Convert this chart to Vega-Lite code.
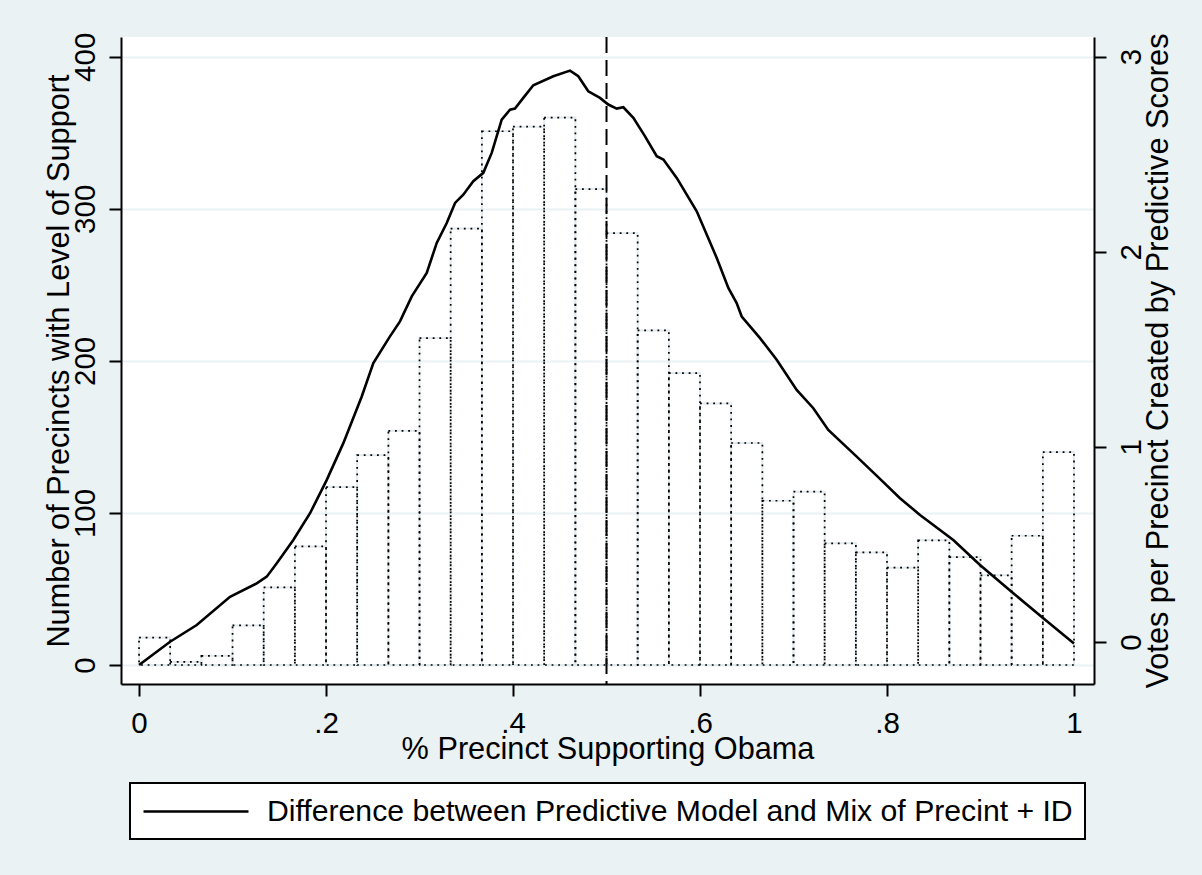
{
  "$schema": "https://vega.github.io/schema/vega-lite/v6.json",
  "width": 973,
  "height": 647,
  "autosize": {"type": "none"},
  "padding": {"left": 121, "top": 37, "right": 108, "bottom": 191},
  "background": "#eaf2f3",
  "config": {
    "view": {"fill": "white", "stroke": null},
    "font": "Liberation Sans",
    "axis": {
      "domainColor": "black", "domainWidth": 2, "tickColor": "black", "tickWidth": 2, "tickSize": 12,
      "labelFontSize": 29.5, "labelColor": "black", "labelFont": "Liberation Sans", "labelFlush": false, "labelOverlap": false,
      "titleFontSize": 30.7, "titleColor": "black", "titleFont": "Liberation Sans", "titleFontWeight": "normal",
      "gridColor": "#eaf2f3", "gridWidth": 2
    },
    "legend": {"strokeWidth": 2}
  },
  "datasets": {
    "bins": [
      {"b": 0.0, "e": 0.0333, "n": 18}, {"b": 0.0333, "e": 0.0667, "n": 2}, {"b": 0.0667, "e": 0.1, "n": 6},
      {"b": 0.1, "e": 0.1333, "n": 26}, {"b": 0.1333, "e": 0.1667, "n": 51}, {"b": 0.1667, "e": 0.2, "n": 78},
      {"b": 0.2, "e": 0.2333, "n": 117}, {"b": 0.2333, "e": 0.2667, "n": 138}, {"b": 0.2667, "e": 0.3, "n": 154},
      {"b": 0.3, "e": 0.3333, "n": 215}, {"b": 0.3333, "e": 0.3667, "n": 287}, {"b": 0.3667, "e": 0.4, "n": 351},
      {"b": 0.4, "e": 0.4333, "n": 354}, {"b": 0.4333, "e": 0.4667, "n": 360}, {"b": 0.4667, "e": 0.5, "n": 313},
      {"b": 0.5, "e": 0.5333, "n": 284}, {"b": 0.5333, "e": 0.5667, "n": 220}, {"b": 0.5667, "e": 0.6, "n": 192},
      {"b": 0.6, "e": 0.6333, "n": 172}, {"b": 0.6333, "e": 0.6667, "n": 146}, {"b": 0.6667, "e": 0.7, "n": 108},
      {"b": 0.7, "e": 0.7333, "n": 114}, {"b": 0.7333, "e": 0.7667, "n": 80}, {"b": 0.7667, "e": 0.8, "n": 74},
      {"b": 0.8, "e": 0.8333, "n": 64}, {"b": 0.8333, "e": 0.8667, "n": 82}, {"b": 0.8667, "e": 0.9, "n": 71},
      {"b": 0.9, "e": 0.9333, "n": 59}, {"b": 0.9333, "e": 0.9667, "n": 85}, {"b": 0.9667, "e": 1.0, "n": 140}
    ],
    "curve": [
      {"x": 0.0, "v": -0.118}, {"x": 0.0332, "v": 0.0015}, {"x": 0.0617, "v": 0.087}, {"x": 0.0973, "v": 0.232},
      {"x": 0.1259, "v": 0.301}, {"x": 0.1366, "v": 0.335}, {"x": 0.1473, "v": 0.404}, {"x": 0.165, "v": 0.523},
      {"x": 0.1829, "v": 0.66}, {"x": 0.2008, "v": 0.831}, {"x": 0.2185, "v": 1.019}, {"x": 0.2382, "v": 1.258},
      {"x": 0.2506, "v": 1.429}, {"x": 0.2684, "v": 1.566}, {"x": 0.2791, "v": 1.643}, {"x": 0.2917, "v": 1.771},
      {"x": 0.3077, "v": 1.891}, {"x": 0.3184, "v": 2.045}, {"x": 0.3291, "v": 2.147}, {"x": 0.338, "v": 2.25},
      {"x": 0.3468, "v": 2.292}, {"x": 0.3575, "v": 2.361}, {"x": 0.3682, "v": 2.404}, {"x": 0.3772, "v": 2.506},
      {"x": 0.3879, "v": 2.677}, {"x": 0.3968, "v": 2.728}, {"x": 0.4021, "v": 2.733}, {"x": 0.411, "v": 2.788},
      {"x": 0.4217, "v": 2.853}, {"x": 0.4431, "v": 2.899}, {"x": 0.461, "v": 2.928}, {"x": 0.4698, "v": 2.899},
      {"x": 0.4805, "v": 2.822}, {"x": 0.493, "v": 2.788}, {"x": 0.5019, "v": 2.754}, {"x": 0.5109, "v": 2.733},
      {"x": 0.518, "v": 2.74}, {"x": 0.5287, "v": 2.686}, {"x": 0.5412, "v": 2.591}, {"x": 0.5537, "v": 2.489},
      {"x": 0.5608, "v": 2.472}, {"x": 0.5751, "v": 2.378}, {"x": 0.5965, "v": 2.207}, {"x": 0.6179, "v": 1.968},
      {"x": 0.6303, "v": 1.814}, {"x": 0.6392, "v": 1.737}, {"x": 0.6446, "v": 1.668}, {"x": 0.6642, "v": 1.557},
      {"x": 0.682, "v": 1.446}, {"x": 0.7034, "v": 1.292}, {"x": 0.7212, "v": 1.198}, {"x": 0.7372, "v": 1.087},
      {"x": 0.7676, "v": 0.95}, {"x": 0.7925, "v": 0.836}, {"x": 0.8139, "v": 0.737}, {"x": 0.8353, "v": 0.651},
      {"x": 0.8709, "v": 0.523}, {"x": 0.8995, "v": 0.395}, {"x": 0.9351, "v": 0.25}, {"x": 0.9672, "v": 0.122},
      {"x": 1.0, "v": -0.007}
    ]
  },
  "layer": [
    {
      "data": {"name": "bins"},
      "encoding": {
        "x": {"field": "b", "type": "quantitative",
          "scale": {"domain": [-0.0193, 1.0214], "nice": false, "zero": false},
          "axis": {"orient": "bottom", "values": [0, 0.2, 0.4, 0.6, 0.8, 1], "grid": false,
            "labelExpr": "datum.value == 0 ? '0' : datum.value == 1 ? '1' : '.' + round(datum.value * 10)",
            "labelPadding": 13, "title": "% Precinct Supporting Obama", "titlePadding": -3}},
        "x2": {"field": "e"},
        "y": {"field": "n", "type": "quantitative",
          "scale": {"domain": [-12.5, 413], "nice": false, "zero": false},
          "axis": {"orient": "left", "values": [0, 100, 200, 300, 400], "grid": true,
            "labelAngle": -90, "labelAlign": "center", "labelBaseline": "alphabetic", "labelPadding": 15,
            "title": "Number of Precincts with Level of Support", "titlePadding": -4}},
        "y2": {"datum": 0}
      },
      "layer": [
        {"mark": {"type": "bar", "fill": null, "fillOpacity": 0, "stroke": "#e2eaed", "strokeWidth": 2}},
        {"mark": {"type": "bar", "fill": null, "fillOpacity": 0, "stroke": "black", "strokeWidth": 1.7, "strokeDash": [1.8, 4.8]}}
      ]
    },
    {
      "data": {"values": [{"cut": 0.5}]},
      "mark": {"type": "rule", "color": "black", "strokeWidth": 2, "strokeDash": [16, 7]},
      "encoding": {"x": {"field": "cut", "type": "quantitative"}}
    },
    {
      "data": {"name": "curve"},
      "mark": {"type": "line", "strokeWidth": 2.6, "interpolate": "linear"},
      "encoding": {
        "x": {"field": "x", "type": "quantitative"},
        "y": {"field": "v", "type": "quantitative",
          "scale": {"domain": [-0.215, 3.10], "nice": false, "zero": false},
          "axis": {"orient": "right", "values": [0, 1, 2, 3], "grid": false,
            "labelAngle": -90, "labelAlign": "center", "labelBaseline": "top", "labelPadding": 11,
            "title": "Votes per Precinct Created by Predictive Scores", "titleAngle": -90, "titleBaseline": "top", "titlePadding": -2}},
        "stroke": {"datum": "Difference between Predictive Model and Mix of Precint + ID", "type": "nominal",
          "scale": {"range": ["black"]},
          "legend": {"orient": "none", "legendX": 9, "legendY": 746, "title": null, "symbolType": "M-1,0H6",
            "symbolSize": 900, "symbolStrokeWidth": 2.5, "symbolStrokeColor": "black",
            "labelFontSize": 30.2, "labelFont": "Liberation Sans", "labelColor": "black", "labelLimit": 0,
            "labelOffset": 92, "padding": 12, "fillColor": "white", "strokeColor": "black"}}
      }
    }
  ],
  "resolve": {"scale": {"y": "independent"}}
}
